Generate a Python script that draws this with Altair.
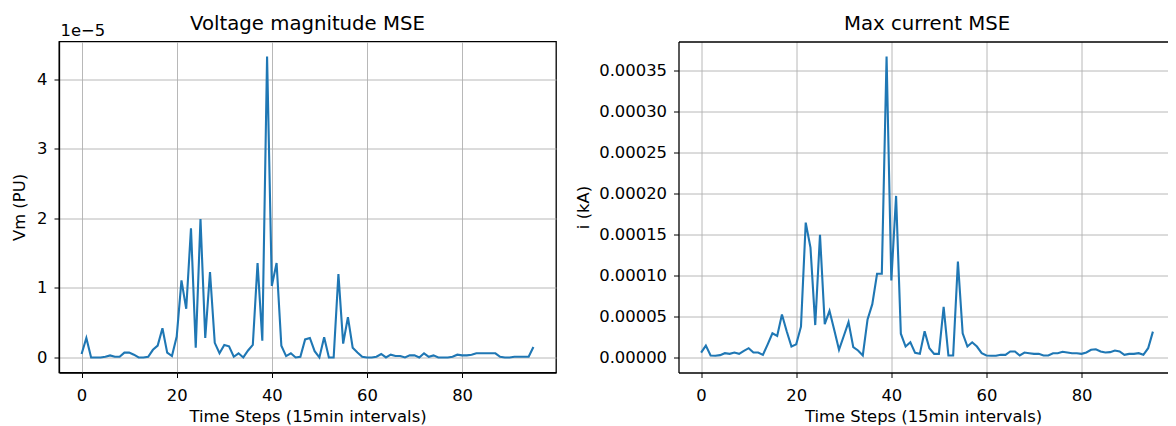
import altair as alt
import pandas as pd

FONT = "DejaVu Sans"
LINE = "#1f77b4"
GRID = "#b0b0b0"

steps = list(range(96))

# Voltage magnitude MSE, in units of 1e-5 PU
vm_e5 = [0.05, 0.28, 0.0, 0.0, 0.0, 0.01, 0.03, 0.01, 0.01, 0.07,
         0.07, 0.04, 0.0, 0.0, 0.01, 0.11, 0.17, 0.42, 0.07, 0.02,
         0.3, 1.11, 0.7, 1.86, 0.14, 1.99, 0.28, 1.23, 0.21, 0.06,
         0.18, 0.16, 0.01, 0.06, 0.0, 0.1, 0.18, 1.36, 0.24, 4.33,
         1.03, 1.36, 0.17, 0.02, 0.06, 0.0, 0.01, 0.26, 0.28, 0.09,
         0.0, 0.29, 0.0, 0.0, 1.2, 0.2, 0.58, 0.14, 0.07, 0.01,
         0.0, 0.0, 0.01, 0.05, 0.0, 0.04, 0.02, 0.02, 0.0, 0.03,
         0.03, 0.0, 0.06, 0.01, 0.03, 0.0, 0.0, 0.0, 0.01, 0.04,
         0.03, 0.03, 0.04, 0.06, 0.06, 0.06, 0.06, 0.06, 0.01, 0.0,
         0.0, 0.01, 0.01, 0.01, 0.01, 0.15]

# Max current MSE, in units of 1e-5 kA
imax_e5 = [0.6, 1.45, 0.24, 0.2, 0.28, 0.52, 0.44, 0.6, 0.44, 0.8,
           1.13, 0.6, 0.6, 0.32, 1.6, 2.94, 2.62, 5.24, 3.2, 1.33,
           1.6, 3.75, 16.45, 13.4, 3.95, 14.96, 4.07, 5.69, 3.35, 0.93,
           2.62, 4.31, 1.25, 0.85, 0.24, 4.64, 6.5, 10.2, 10.2, 36.7,
           9.4, 19.7, 2.9, 1.33, 1.85, 0.56, 0.44, 3.2, 1.13, 0.44,
           0.44, 6.17, 0.24, 0.24, 11.7, 2.94, 1.33, 1.85, 1.33, 0.52,
           0.24, 0.2, 0.2, 0.32, 0.32, 0.73, 0.73, 0.24, 0.6, 0.52,
           0.44, 0.44, 0.24, 0.24, 0.52, 0.52, 0.69, 0.6, 0.52, 0.52,
           0.44, 0.6, 0.93, 1.0, 0.73, 0.6, 0.65, 0.85, 0.73, 0.32,
           0.44, 0.44, 0.52, 0.32, 1.13, 3.15]

x_ticks = [0, 20, 40, 60, 80]
vm_ticks = [0, 1e-5, 2e-5, 3e-5, 4e-5]
i_ticks = [0, 0.00005, 0.0001, 0.00015, 0.0002, 0.00025, 0.0003, 0.00035]
titles = ["Voltage magnitude MSE", "Max current MSE"]
offset_label = ["1e\u22125"]

df = pd.DataFrame({
    "step": steps,
    "vm": [v * 1e-5 for v in vm_e5],
    "imax": [v * 1e-5 for v in imax_e5],
})

H = 331
W_LEFT = 497
W_RIGHT = 489          # right panel runs off the window edge in the reference
X_LEFT = [-4.75, 99.75]
X_RIGHT = [-4.75, -4.75 + 104.5 * W_RIGHT / W_LEFT]
VM_DOM = [-0.2165e-5, 4.5465e-5]
I_DOM = [-0.00001835, 0.00038535]
FS = 16.4

def x_axis():
    return alt.Axis(
        values=x_ticks, format="d", title="Time Steps (15min intervals)",
        grid=True, gridColor=GRID, gridWidth=0.9,
        domain=True, domainColor="black", domainWidth=1.3,
        tickSize=5, tickColor="black", tickWidth=1,
        labelPadding=9.5, labelFontSize=FS, labelFont=FONT, labelColor="black",
        titleFontSize=FS, titleFont=FONT, titleFontWeight="normal",
        titleColor="black", titlePadding=5, labelFlush=False,
    )

def y_axis(values, title, label_expr, title_pad):
    return alt.Axis(
        values=values, title=title, labelExpr=label_expr,
        grid=True, gridColor=GRID, gridWidth=0.9,
        domain=True, domainColor="black", domainWidth=1.3,
        tickSize=5, tickColor="black", tickWidth=1,
        labelPadding=7, labelFontSize=FS, labelFont=FONT, labelColor="black",
        titleFontSize=FS, titleFont=FONT, titleFontWeight="normal",
        titleColor="black", titlePadding=title_pad, labelFlush=False,
    )

def title_mark(t, w):
    return alt.Chart(pd.DataFrame({"t": [t]})).mark_text(
        align="center", baseline="alphabetic", fontSize=19.7, font=FONT, color="black"
    ).encode(text="t:N", x=alt.value(w / 2), y=alt.value(-11.4))

left_line = alt.Chart(df).mark_line(color=LINE, strokeWidth=2.1).encode(
    x=alt.X("step:Q", scale=alt.Scale(domain=X_LEFT, nice=False, zero=False), axis=x_axis()),
    y=alt.Y(
        "vm:Q",
        scale=alt.Scale(domain=VM_DOM, nice=False, zero=False),
        axis=y_axis(vm_ticks, "Vm (PU)", "format(datum.value * 1e5, '.0f')", 9),
    ),
)

offset_text = alt.Chart(pd.DataFrame({"label": offset_label})).mark_text(
    align="left", baseline="alphabetic", fontSize=FS, font=FONT, color="black"
).encode(text="label:N", x=alt.value(1.5), y=alt.value(-5.7))

left = alt.layer(left_line, offset_text, title_mark(titles[0], W_LEFT)).properties(
    width=W_LEFT, height=H, view=alt.ViewBackground(stroke="black", strokeWidth=1.3)
)

right_scale_x = alt.Scale(domain=X_RIGHT, nice=False, zero=False)
right_y = alt.Y(
    "imax:Q",
    scale=alt.Scale(domain=I_DOM, nice=False, zero=False),
    axis=y_axis(i_ticks, "i (kA)", "format(datum.value, '.5f')", 7),
)

right_line = alt.Chart(df).mark_line(color=LINE, strokeWidth=2.1).encode(
    x=alt.X("step:Q", scale=right_scale_x, axis=x_axis()),
    y=right_y,
)

# top frame edge of the right panel (its right edge lies beyond the window)
right_top = alt.Chart(df).mark_line(opacity=0).encode(
    x=alt.X("step:Q", scale=right_scale_x,
            axis=alt.Axis(orient="top", labels=False, ticks=False, grid=False,
                          domain=True, domainColor="black", domainWidth=1.3,
                          title=None)),
    y=right_y,
)

right = alt.layer(right_line, right_top, title_mark(titles[1], W_LEFT)).resolve_axis(
    x="independent"
).properties(width=W_RIGHT, height=H, view=alt.ViewBackground(stroke=None, strokeOpacity=0))

chart = alt.hconcat(left, right, spacing=18.5).properties(
    padding={"left": 2, "top": 4.5, "right": 0, "bottom": 0}
).configure(background="white")

chart.save("out.html", embed_options={"renderer": "svg", "actions": False})
